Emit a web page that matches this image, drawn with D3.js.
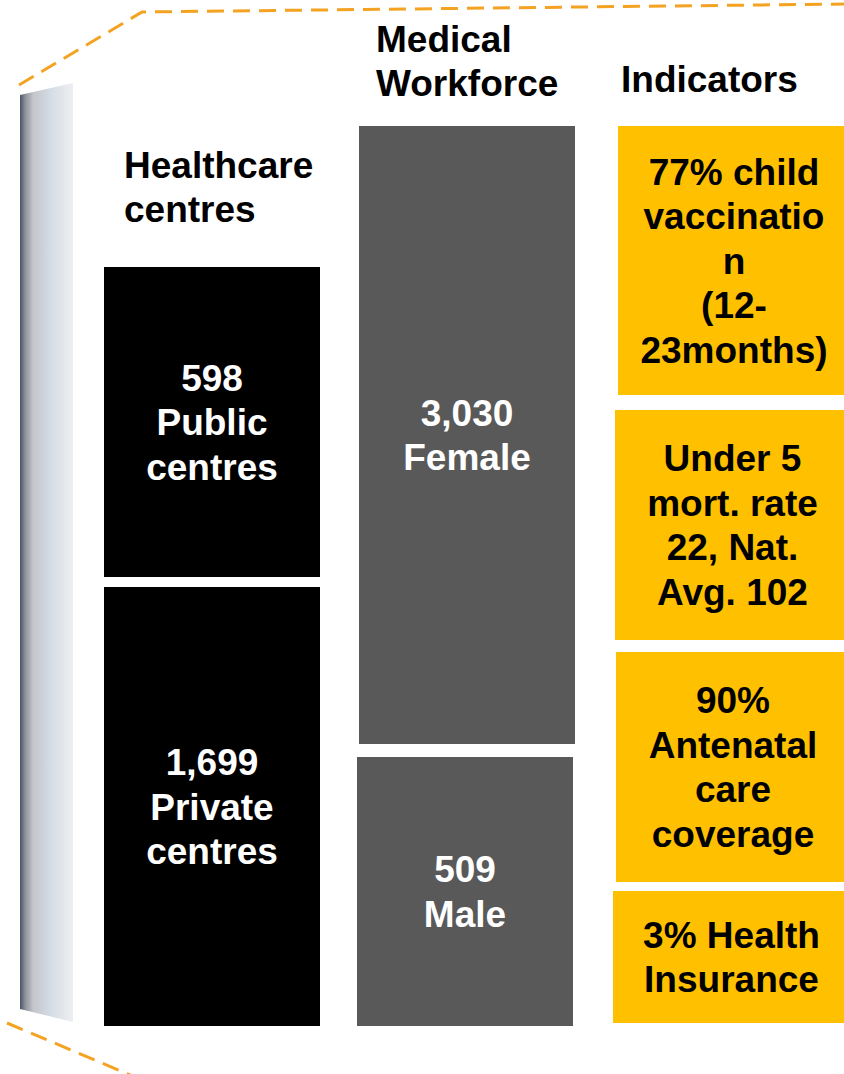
<!DOCTYPE html>
<html>
<head>
<meta charset="utf-8">
<script src="https://cdn.jsdelivr.net/npm/d3@7"></script>
<style>
  body { margin: 0; background: #fff; }
  svg { display: block; font-family: "Liberation Sans", Arial, sans-serif; font-weight: bold; }
</style>
</head>
<body>
<div id="chart"></div>
<script>
// Data
const columns = ['Healthcare centres', 'Medical Workforce', 'Indicators'];
const centreValues = ['598', '1,699'];
const centreLabels = ['Public centres', 'Private centres'];
const workforceValues = ['3,030', '509'];
const workforceLabels = ['Female', 'Male'];
const indicatorTexts = [
    ['77% child', 'vaccinatio', 'n', '(12-', '23months)'],
    ['Under 5', 'mort. rate', '22, Nat.', 'Avg. 102'],
    ['90%', 'Antenatal', 'care', 'coverage'],
    ['3% Health', 'Insurance']
];

const width = 844, height = 1074;
const lineH = 44.5;
const fontSize = 37;

const svg = d3.select('#chart').append('svg')
    .attr('width', width)
    .attr('height', height);

// gradient for the left "wall"
const defs = svg.append('defs');
const grad = defs.append('linearGradient').attr('id', 'wall').attr('x1', 0).attr('x2', 1);
grad.append('stop').attr('offset', '0%').attr('stop-color', '#4a5468');
grad.append('stop').attr('offset', '10%').attr('stop-color', '#8d939c');
grad.append('stop').attr('offset', '25%').attr('stop-color', '#c3c6cb');
grad.append('stop').attr('offset', '60%').attr('stop-color', '#d6dde6');
grad.append('stop').attr('offset', '100%').attr('stop-color', '#eeeff1');

svg.append('path')
    .attr('d', 'M20,95 L73,83 L73,1022 L20,1009 Z')
    .attr('fill', 'url(#wall)');

// dashed orange guide lines
svg.append('path')
    .attr('d', 'M19,85 L142,12 L844,4')
    .attr('fill', 'none')
    .attr('stroke', '#f4a221')
    .attr('stroke-width', 3)
    .attr('stroke-dasharray', '17,9');
svg.append('path')
    .attr('d', 'M7,1023 L135,1077')
    .attr('fill', 'none')
    .attr('stroke', '#f4a221')
    .attr('stroke-width', 3)
    .attr('stroke-dasharray', '17,9');

// vertical layout scale
const y = d3.scaleLinear().domain([0, 1]).range([0, height]);

const boxes = [
    { x0: 104, x1: 320, top: 267, bottom: 577, fill: '#000', color: '#fff', dx: 0, lines: [centreValues[0], ...centreLabels[0].split(' ')] },
    { x0: 104, x1: 320, top: 587, bottom: 1026, fill: '#000', color: '#fff', dx: 0, lines: [centreValues[1], ...centreLabels[1].split(' ')] },
    { x0: 359, x1: 575, top: 126, bottom: 744, fill: '#595959', color: '#fff', dx: 0, lines: [workforceValues[0], workforceLabels[0]] },
    { x0: 357, x1: 573, top: 757, bottom: 1026, fill: '#595959', color: '#fff', dx: 0, lines: [workforceValues[1], workforceLabels[1]] },
    { x0: 618, x1: 844, top: 126, bottom: 395, fill: '#ffc000', color: '#000', dx: 3, lines: indicatorTexts[0] },
    { x0: 615, x1: 844, top: 410, bottom: 640, fill: '#ffc000', color: '#000', dx: 3, lines: indicatorTexts[1] },
    { x0: 616, x1: 844, top: 652, bottom: 882, fill: '#ffc000', color: '#000', dx: 3, lines: indicatorTexts[2] },
    { x0: 613, x1: 844, top: 891, bottom: 1023, fill: '#ffc000', color: '#000', dx: 3, lines: indicatorTexts[3] }
];
boxes.forEach(b => { b.top = y.invert(b.top); b.bottom = y.invert(b.bottom); });

const g = svg.selectAll('.box')
    .data(boxes)
  .enter().append('g')
    .attr('class', 'box');

g.append('rect')
    .attr('x', d => d.x0)
    .attr('y', d => y(d.top))
    .attr('width', d => d.x1 - d.x0)
    .attr('height', d => y(d.bottom) - y(d.top))
    .attr('fill', d => d.fill);

g.each(function(d) {
    const cx = (d.x0 + d.x1) / 2 + d.dx;
    const cy = (y(d.top) + y(d.bottom)) / 2;
    const first = cy - (d.lines.length - 1) * lineH / 2 + 13;
    d3.select(this).selectAll('text')
        .data(d.lines)
      .enter().append('text')
        .attr('x', cx)
        .attr('y', (t, i) => first + i * lineH)
        .attr('text-anchor', 'middle')
        .attr('font-size', fontSize)
        .attr('fill', d.color)
        .text(t => t);
});

// column headers
const headers = [
    { x: 124, y: 178, lines: columns[0].split(' ') },
    { x: 376, y: 52, lines: columns[1].split(' ') },
    { x: 621, y: 92, lines: [columns[2]] }
];
headers.forEach(h => {
    svg.append('g').selectAll('text')
        .data(h.lines)
      .enter().append('text')
        .attr('x', h.x)
        .attr('y', (t, i) => h.y + i * 44)
        .attr('font-size', fontSize)
        .attr('fill', '#000')
        .text(t => t);
});
</script>
</body>
</html>
